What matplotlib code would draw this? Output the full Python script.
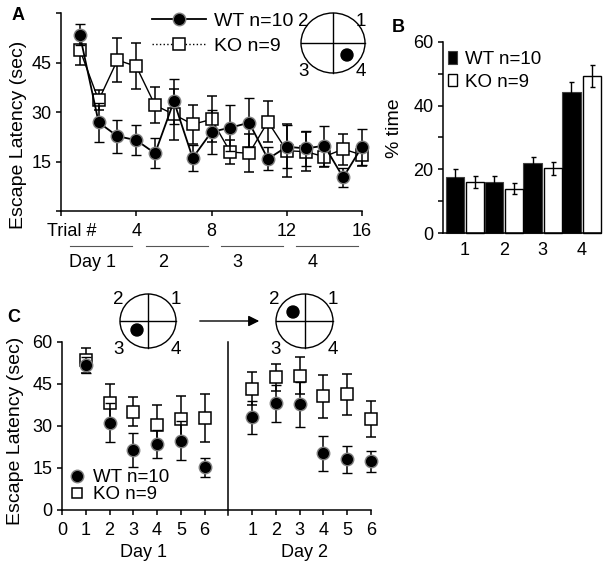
import numpy as np
import matplotlib
matplotlib.use("Agg")
from matplotlib import pyplot as plt
from matplotlib.patches import Ellipse, FancyArrowPatch
from matplotlib.lines import Line2D

plt.rcParams['font.family'] = ['Liberation Sans', 'DejaVu Sans']
plt.rcParams['font.size'] = 13

# ---- panel A: escape latency over 16 trials (4 days)
trials = np.arange(1, 17)
wt_a = [53.5, 26.9, 22.7, 21.5, 17.5, 33.3, 16.1, 24.0, 25.3, 26.8, 15.8, 19.5, 19.0, 19.8, 10.2, 19.5]
wt_a_err = [3.2, 6.0, 5.0, 4.5, 4.6, 6.8, 4.0, 6.7, 7.0, 7.5, 3.5, 6.5, 5.3, 6.0, 3.0, 5.5]
ko_a = [49.0, 33.6, 45.8, 43.9, 32.1, 29.3, 26.3, 27.8, 17.9, 17.5, 27.1, 18.3, 18.0, 16.5, 18.8, 17.0]
ko_a_err = [4.6, 3.0, 6.7, 7.0, 5.4, 7.8, 6.0, 7.0, 3.7, 5.8, 6.2, 8.0, 6.0, 3.0, 4.7, 3.3]
day_names_a = ["Day 1", "2", "3", "4"]

# ---- panel B: % time per quadrant
quadrants = [1, 2, 3, 4]
wt_b = [17.7, 16.2, 21.9, 44.3]
wt_b_err = [2.4, 1.8, 2.1, 3.1]
ko_b = [16.0, 13.9, 20.3, 49.3]
ko_b_err = [1.8, 1.7, 2.1, 3.5]

# ---- panel C: reversal, 6 trials per day
day1_x = [1, 2, 3, 4, 5, 6]
day2_x = [8, 9, 10, 11, 12, 13]
wt_c = [51.7, 31.1, 21.4, 23.5, 24.7, 15.2, 33.0, 38.0, 37.7, 20.2, 18.1, 17.4]
wt_c_err = [3.0, 7.0, 6.0, 5.0, 7.0, 3.5, 6.0, 6.5, 8.0, 6.3, 4.8, 3.8]
ko_c = [53.4, 38.0, 35.0, 30.3, 32.3, 32.7, 43.3, 47.3, 47.9, 40.6, 41.3, 32.4]
ko_c_err = [4.4, 7.0, 5.2, 7.3, 8.3, 8.6, 6.0, 4.7, 6.5, 7.7, 7.3, 6.4]
c_ticklabels = ["0", "1", "2", "3", "4", "5", "6", "1", "2", "3", "4", "5", "6"]

W, H = 609, 566
fig = plt.figure(figsize=(W / 100, H / 100), dpi=100)


def px_axes(left, top, right, bottom):
    return fig.add_axes([left / W, 1 - bottom / H, (right - left) / W, (bottom - top) / H])


def fx(x):
    return x / W


def fy(y):
    return 1 - y / H


def style(ax):
    for s in ["top", "right"]:
        ax.spines[s].set_visible(False)
    ax.spines["left"].set_linewidth(1.1)
    ax.spines["bottom"].set_linewidth(1.1)
    ax.tick_params(direction="out", length=3.5, width=1.1, labelsize=13)


def noclip(container):
    for a in container.get_children():
        a.set_clip_on(False)


def maze(cx, cy, rx, ry, dx, dy):
    fig.add_artist(Ellipse((fx(cx), fy(cy)), 2 * rx / W, 2 * ry / H, transform=fig.transFigure,
                           fill=False, lw=1.0, color="black"))
    fig.add_artist(Line2D([fx(cx - rx), fx(cx + rx)], [fy(cy), fy(cy)], transform=fig.transFigure, lw=1.0, color="black"))
    fig.add_artist(Line2D([fx(cx), fx(cx)], [fy(cy - ry), fy(cy + ry)], transform=fig.transFigure, lw=1.0, color="black"))
    fig.add_artist(Ellipse((fx(cx + dx), fy(cy + dy)), 12 / W, 12 / H, transform=fig.transFigure,
                           color="black"))
    for t, ox, oy in [("2", -30, -21), ("1", 28, -21), ("3", -29, 28), ("4", 28, 28)]:
        fig.text(fx(cx + ox), fy(cy + oy), t, ha="center", va="center", fontsize=13.5)


wt_style = dict(marker="o", ms=9, mfc="black", mec="#808080", mew=1.0, color="black")
ko_style = dict(marker="s", ms=9, mfc="white", mec="black", mew=1.1, color="black")

# ================= A
axA = px_axes(61, 13.3, 362, 211)
style(axA)
noclip(axA.errorbar(trials, ko_a, yerr=ko_a_err, lw=1.0, capsize=3.5, elinewidth=1.1, capthick=1.1, zorder=2, **ko_style))
noclip(axA.errorbar(trials, wt_a, yerr=wt_a_err, lw=1.3, capsize=3.5, elinewidth=1.1, capthick=1.1, zorder=3, **wt_style))
axA.set_xlim(0, 16)
axA.set_ylim(0, 60)
axA.set_yticks([0, 15, 30, 45, 60])
axA.set_yticklabels(["", "15", "30", "45", ""])
axA.set_xticks([0, 4, 8, 12, 16])
axA.set_xticklabels(["", "4", "8", "12", "16"])
axA.tick_params(axis="x", pad=5)
tr = axA.get_xaxis_transform()
axA.text(0.59, -0.106, "Trial #", transform=tr, ha="center", va="center", fontsize=13)
for d, name in enumerate(day_names_a):
    axA.plot([4 * d + 0.5, 4 * d + 3.8], [-0.177, -0.177], transform=tr, color="#555555", lw=0.8, clip_on=False)
    axA.text([1.65, 5.43, 9.36, 13.35][d], -0.258, name, transform=tr, ha="center", va="center", fontsize=13)
handlesA = [Line2D([], [], lw=1.3, **wt_style), Line2D([], [], lw=1.0, ls=":", **ko_style)]
axA.legend(handlesA, ["WT n=10", "KO n=9"], loc="upper left", bbox_to_anchor=(fx(152), fy(12)),
           bbox_transform=fig.transFigure, frameon=False, borderpad=0, borderaxespad=0,
           handlelength=2.8, handletextpad=0.4, labelspacing=0.4, fontsize=14)
maze(333, 43, 32, 30, 14, 12)

# ================= B
axB = px_axes(443, 41.7, 601, 233.3)
style(axB)
qx = np.array(quadrants)
axB.bar(qx - 0.26, wt_b, width=0.47, color="black", edgecolor="#404040", lw=0.8, label="WT n=10", clip_on=False)
axB.bar(qx + 0.26, ko_b, width=0.47, color="white", edgecolor="black", lw=1.0, label="KO n=9", clip_on=False)
noclip(axB.errorbar(qx - 0.26, wt_b, yerr=wt_b_err, fmt="none", ecolor="black", capsize=1.8, elinewidth=1.0))
noclip(axB.errorbar(qx + 0.26, ko_b, yerr=ko_b_err, fmt="none", ecolor="black", capsize=1.8, elinewidth=1.0))
axB.set_xlim(0.435, 4.5)
axB.set_ylim(0, 60)
axB.set_yticks(np.arange(0, 61, 10))
axB.set_yticklabels(["0", "", "20", "", "40", "", "60"])
axB.set_xticks(qx)
axB.tick_params(axis="x", length=0, pad=6)
axB.legend(loc="upper left", bbox_to_anchor=(fx(448), fy(51)), bbox_transform=fig.transFigure,
           frameon=False, borderpad=0, borderaxespad=0, handlelength=0.5, handleheight=0.65,
           handletextpad=0.4, labelspacing=0.3, fontsize=13.5)

# ================= C
axC = px_axes(62, 341.7, 371, 510)
style(axC)
cx_all = day1_x + day2_x
noclip(axC.errorbar(cx_all, ko_c, yerr=ko_c_err, ls="none", capsize=3.5, elinewidth=1.1, capthick=1.1,
                    zorder=2, **ko_style))
noclip(axC.errorbar(cx_all, wt_c, yerr=wt_c_err, ls="none", capsize=3.5, elinewidth=1.1, capthick=1.1,
                    zorder=3, **wt_style))
axC.set_xlim(0, 13)
axC.set_ylim(0, 60)
axC.set_yticks([0, 15, 30, 45, 60])
axC.set_xticks([0] + cx_all)
axC.set_xticklabels(c_ticklabels)
axC.tick_params(axis="x", pad=5)
axC.axvline(7, ymin=-0.03, ymax=1, color="black", lw=1.1, clip_on=False)
trC = axC.get_xaxis_transform()
axC.text(3.41, -0.25, "Day 1", transform=trC, ha="center", va="center", fontsize=13)
axC.text(10.2, -0.25, "Day 2", transform=trC, ha="center", va="center", fontsize=13)
axC.legend([Line2D([], [], ls="none", **wt_style),
            Line2D([], [], ls="none", ms=7, marker="s", mfc="white", mec="black", mew=1.1)],
           ["WT n=10", "KO n=9"], loc="upper left", bbox_to_anchor=(fx(68), fy(469)),
           bbox_transform=fig.transFigure, frameon=False, borderpad=0, borderaxespad=0,
           handlelength=1.0, handletextpad=0.35, labelspacing=0.0, fontsize=13.5)
maze(148, 321, 28, 27, -11, 9)
maze(304.5, 321, 28.5, 27, -11.5, -9)
fig.add_artist(FancyArrowPatch((fx(197), fy(321)), (fx(262), fy(321)), transform=fig.transFigure,
                               arrowstyle="-|>", mutation_scale=16, lw=1.0, color="black"))

# ---- y labels and panel letters
fig.text(fx(19), fy(135), "Escape Latency (sec)", rotation=90, ha="center", va="center", fontsize=14)
fig.text(fx(394.5), fy(128), "% time", rotation=90, ha="center", va="center", fontsize=14)
fig.text(fx(16), fy(431), "Escape Latency (sec)", rotation=90, ha="center", va="center", fontsize=14)
fig.text(fx(18), fy(15), "A", ha="center", va="center", fontsize=13, fontweight="bold")
fig.text(fx(398), fy(28), "B", ha="center", va="center", fontsize=13, fontweight="bold")
fig.text(fx(14), fy(317), "C", ha="center", va="center", fontsize=13, fontweight="bold")

fig.savefig("out.png", dpi=100)
